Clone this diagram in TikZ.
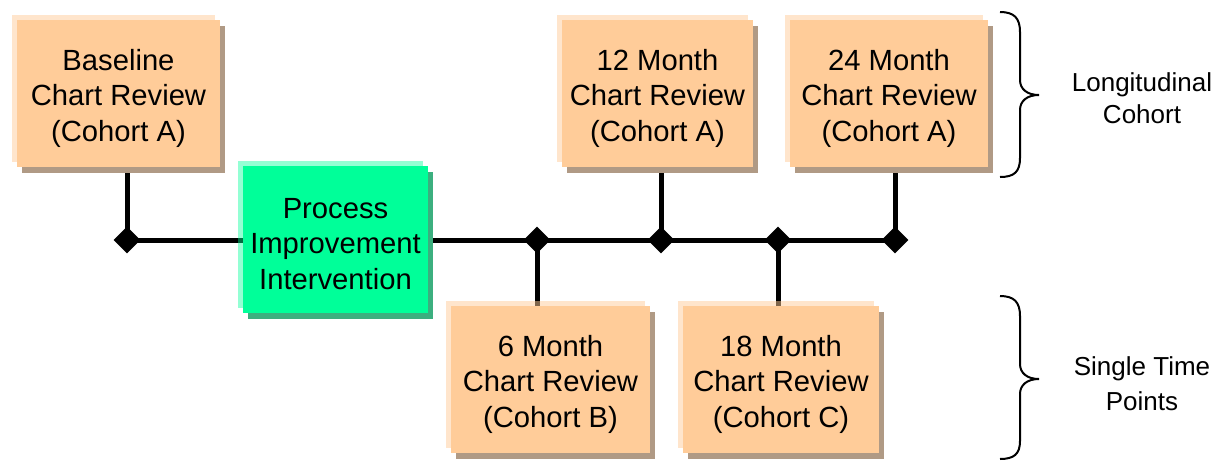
\documentclass[tikz,border=0pt]{standalone}
\usepackage{fontspec}
\setmainfont{Liberation Sans}
\usetikzlibrary{shapes.geometric,shadows}
\pgfdeclarelayer{background}
\pgfsetlayers{background,main}
\definecolor{peach}{HTML}{FFCC99}
\definecolor{peachshadow}{HTML}{B09A85}
\definecolor{mint}{HTML}{00FF99}
\definecolor{mintshadow}{HTML}{3CAF7F}
\tikzset{
  boxtext/.style={align=center, inner sep=0pt, font=\fontsize{29.2}{35.5}\selectfont, yshift=-4.5pt},
  cbox/.style={draw=none, fill=peach, inner sep=0pt,
    minimum height=147pt,
    general shadow={fill=peachshadow, shadow xshift=5pt, shadow yshift=-6pt},
    general shadow={fill=peach, fill opacity=0.5, shadow xshift=-5pt, shadow yshift=5pt}},
  gbox/.style={draw=none, fill=mint, inner sep=0pt,
    minimum height=147pt,
    general shadow={fill=mintshadow, shadow xshift=5pt, shadow yshift=-6pt},
    general shadow={fill=mint, fill opacity=0.42, shadow xshift=-5pt, shadow yshift=5pt}},
  joint/.style={diamond, fill=black, draw=none, inner sep=0pt, minimum width=27pt, minimum height=27pt},
  conn/.style={line width=5pt, black},
  brc/.style={line width=2pt, black},
  note/.style={align=center, font=\fontsize{26}{32}\selectfont}
}
\begin{document}
\begin{tikzpicture}[x=1pt,y=-1pt]
\useasboundingbox (0,0) rectangle (1217,461);
% boxes
\node[cbox, minimum width=203pt, label={[boxtext]center:Baseline\\Chart Review\\(Cohort A)}] (base) at (118.5,93.5) {};
\node[gbox, minimum width=185pt, label={[boxtext]center:Process\\Improvement\\Intervention}] (proc) at (335.5,239.5) {};
\node[cbox, minimum width=199pt, label={[boxtext]center:6 Month\\Chart Review\\(Cohort B)}] (six) at (550.5,379.5) {};
\node[cbox, minimum width=191pt, label={[boxtext]center:12 Month\\Chart Review\\(Cohort A)}] (twelve) at (657.5,93.5) {};
\node[cbox, minimum width=196pt, label={[boxtext]center:18 Month\\Chart Review\\(Cohort C)}] (eighteen) at (781,379.5) {};
\node[cbox, minimum width=198pt, label={[boxtext]center:24 Month\\Chart Review\\(Cohort A)}] (twentyfour) at (889,93.5) {};
% joints
\node[joint] (d1) at (127,240) {};
\node[joint] (d2) at (537,240) {};
\node[joint] (d3) at (661,240) {};
\node[joint] (d4) at (778,240) {};
\node[joint] (d5) at (895,240) {};
% connectors
\begin{pgfonlayer}{background}
\draw[conn] (d1.center) -- (d5.center);
\draw[conn] (d1.center) -- (d1.center |- base.south);
\draw[conn] (d2.center) -- (d2.center |- six.north);
\draw[conn] (d3.center) -- (d3.center |- twelve.south);
\draw[conn] (d4.center) -- (d4.center |- eighteen.north);
\draw[conn] (d5.center) -- (d5.center |- twentyfour.south);
\end{pgfonlayer}
% braces
\coordinate (b1t) at (1000,12);
\coordinate (b1b) at (1000,177);
\coordinate (b1m) at (1039,95);
\draw[brc] (b1t) .. controls (1014,12) and (1020,18) .. (1020,32) -- (1020,80)
  .. controls (1020,89) and (1027,95) .. (b1m)
  .. controls (1027,95) and (1020,101) .. (1020,110) -- (1020,158)
  .. controls (1020,172) and (1014,177) .. (b1b);
\coordinate (b2t) at (1000,296);
\coordinate (b2b) at (1000,459);
\coordinate (b2m) at (1039,379);
\draw[brc] (b2t) .. controls (1014,296) and (1020,302) .. (1020,316) -- (1020,364)
  .. controls (1020,373) and (1027,379) .. (b2m)
  .. controls (1027,379) and (1020,385) .. (1020,394) -- (1020,441)
  .. controls (1020,454) and (1014,459) .. (b2b);
\node[note] (lc) at (1142,98) {Longitudinal\\Cohort};
\node[note] (st) at (1142,384) {Single Time\\[3pt]Points};
\end{tikzpicture}
\end{document}
